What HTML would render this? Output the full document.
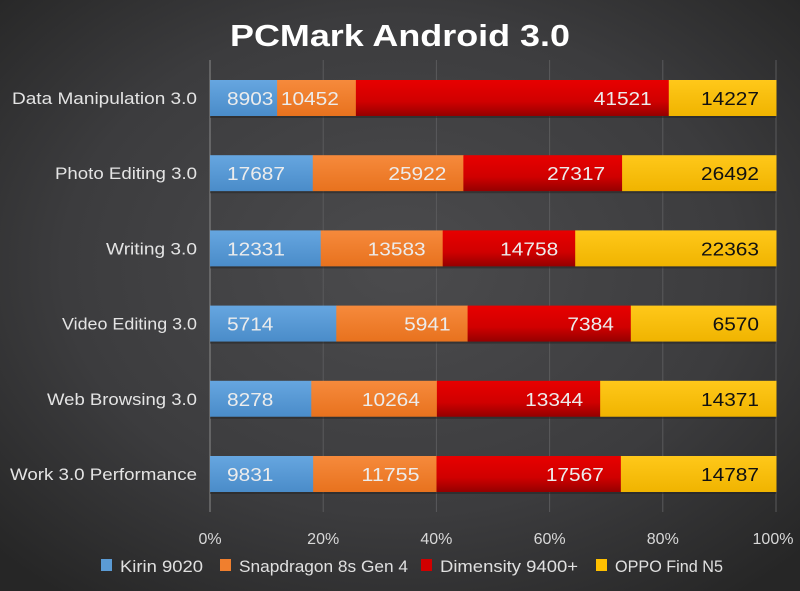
<!DOCTYPE html>
<html><head><meta charset="utf-8"><style>
html,body{margin:0;padding:0;width:800px;height:591px;overflow:hidden;background:#333}
svg{display:block}
text{font-family:"Liberation Sans",sans-serif}
</style></head><body>
<svg id="s" width="800" height="591" xmlns="http://www.w3.org/2000/svg">
<defs>
<radialGradient id="bg" cx="50%" cy="45%" r="70%">
<stop offset="0" stop-color="#4b4b4d"/><stop offset="0.6" stop-color="#3c3c3e"/><stop offset="1" stop-color="#262626"/>
</radialGradient>
<linearGradient id="gb" x1="0" y1="0" x2="0" y2="1"><stop offset="0" stop-color="#66a6e0"/><stop offset="1" stop-color="#4a8cc9"/></linearGradient>
<linearGradient id="go" x1="0" y1="0" x2="0" y2="1"><stop offset="0" stop-color="#f68a3c"/><stop offset="1" stop-color="#e8721e"/></linearGradient>
<linearGradient id="gr" x1="0" y1="0" x2="0" y2="1"><stop offset="0" stop-color="#e80000"/><stop offset="0.6" stop-color="#d00000"/><stop offset="1" stop-color="#950000"/></linearGradient>
<linearGradient id="gy" x1="0" y1="0" x2="0" y2="1"><stop offset="0" stop-color="#ffc81a"/><stop offset="1" stop-color="#f0b400"/></linearGradient>
</defs>
<rect width="800" height="591" fill="url(#bg)"/>
<text x="230" y="46" textLength="340" lengthAdjust="spacingAndGlyphs" font-size="31" font-weight="bold" fill="#fff">PCMark Android 3.0</text>
<g id="g"></g>
</svg>
<script>
var g=document.getElementById('g'),h='';
var x0=210,W=566;
for(var i=1;i<=5;i++){var x=x0+W*i/5;h+='<line x1="'+x+'" y1="60" x2="'+x+'" y2="512" stroke="#5a5a5c" stroke-width="1"/>';}
h+='<line x1="210" y1="60" x2="210" y2="512" stroke="#8a8a8a" stroke-width="1"/>';
for(var i=0;i<=5;i++){var x=x0+W*i/5;h+='<text x="'+(i==5?x-3:x)+'" y="544" text-anchor="middle" font-size="16" fill="#d8d8d8">'+(i*20)+'%</text>';}
var cats=["Data Manipulation 3.0","Photo Editing 3.0","Writing 3.0","Video Editing 3.0","Web Browsing 3.0","Work 3.0 Performance"];
var cw=[185,142,91,135,150,187];
var d=[[8903,10452,41521,14227],[17687,25922,27317,26492],[12331,13583,14758,22363],[5714,5941,7384,6570],[8278,10264,13344,14371],[9831,11755,17567,14787]];
var fills=["url(#gb)","url(#go)","url(#gr)","url(#gy)"];
for(var r=0;r<6;r++){
 var cy=98+r*75.2,t=d[r].reduce(function(a,b){return a+b},0),x=x0;
 h+='<text x="'+(197-cw[r])+'" y="'+(cy+6)+'" textLength="'+cw[r]+'" lengthAdjust="spacingAndGlyphs" font-size="17" fill="#e4e4e4">'+cats[r]+'</text>';
 for(var k=0;k<4;k++){
  var w=W*d[r][k]/t;
  h+='<rect x="'+x+'" y="'+(cy-18)+'" width="'+(w+0.5)+'" height="36" fill="'+fills[k]+'"/>';
  var col=k==3?'#111':'#ececec',s=String(d[r][k]),tl=s.length*11.6;
  var tx=k==0?227:(x+w-17-tl);
  h+='<text x="'+tx+'" y="'+(cy+7)+'" textLength="'+tl+'" lengthAdjust="spacingAndGlyphs" font-size="18.5" fill="'+col+'">'+s+'</text>';
  x+=w;
 }
 h+='<rect x="210" y="'+(cy+18)+'" width="566" height="2" fill="#222" opacity="0.5"/>';
}
var leg=[["Kirin 9020","#5b9bd5",101,203],["Snapdragon 8s Gen 4","#f07f2e",220,408],["Dimensity 9400+","#d00000",421,578],["OPPO Find N5","#ffc000",596,723]];
leg.forEach(function(l){var sx=l[2]+19;h+='<rect x="'+l[2]+'" y="559" width="11" height="12" fill="'+l[1]+'"/><text x="'+sx+'" y="572" textLength="'+(l[3]-sx)+'" lengthAdjust="spacingAndGlyphs" font-size="17" fill="#e0e0e0">'+l[0]+'</text>';});
g.innerHTML=h;
</script>
</body></html>
